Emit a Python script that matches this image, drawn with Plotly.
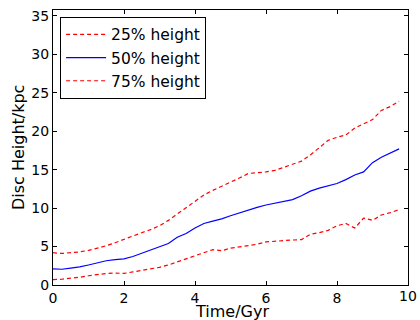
import plotly.graph_objects as go

# Time (Gyr) sample points
t_upper = [0.0, 0.25, 0.5, 0.75, 1.0, 1.25, 1.5, 1.75, 2.0, 2.25, 2.5, 2.75, 3.0, 3.25, 3.5, 3.75, 4.0, 4.25, 4.5, 4.75, 5.0, 5.25, 5.5, 5.75, 6.0, 6.25, 6.5, 6.75, 7.0, 7.25, 7.5, 7.75, 8.0, 8.25, 8.5, 8.75, 9.0, 9.25, 9.5, 9.75]
h75 = [4.2, 4.1, 4.2, 4.3, 4.5, 4.8, 5.1, 5.5, 5.9, 6.3, 6.8, 7.2, 7.7, 8.4, 9.2, 10.0, 10.9, 11.7, 12.3, 12.8, 13.3, 13.9, 14.5, 14.6, 14.7, 14.9, 15.3, 15.7, 16.1, 16.9, 17.9, 18.8, 19.2, 19.5, 20.4, 20.9, 21.5, 22.7, 23.2, 23.9]
h50 = [2.1, 2.05, 2.2, 2.35, 2.6, 2.9, 3.15, 3.3, 3.4, 3.7, 4.1, 4.5, 4.9, 5.4, 6.2, 6.7, 7.4, 8.0, 8.3, 8.6, 9.0, 9.4, 9.7, 10.1, 10.4, 10.6, 10.8, 11.1, 11.6, 12.2, 12.6, 12.9, 13.2, 13.7, 14.3, 14.7, 15.9, 16.6, 17.2, 17.7]
h25 = [0.7, 0.75, 0.9, 1.0, 1.2, 1.35, 1.5, 1.55, 1.5, 1.7, 1.9, 2.1, 2.3, 2.6, 3.0, 3.3, 3.7, 4.1, 4.6, 4.45, 4.8, 4.95, 5.1, 5.3, 5.6, 5.7, 5.8, 5.85, 5.9, 6.6, 6.8, 7.1, 7.7, 8.0, 7.4, 8.7, 8.4, 9.1, 9.4, 9.8]

x_ticks = [0, 2, 4, 6, 8]
x_end_tick = 10
y_ticks = [0, 5, 10, 15, 20, 25, 30, 35]

series_names = ["25% height", "50% height", "75% height"]
x_title = "Time/Gyr"
y_title = "Disc Height/kpc"

fig = go.Figure()
fig.add_trace(go.Scatter(x=t_upper, y=h75, mode="lines", name=series_names[0],
                         line=dict(color="red", width=1.2, dash="4px,3px")))
fig.add_trace(go.Scatter(x=t_upper, y=h50, mode="lines", name=series_names[1],
                         line=dict(color="blue", width=1.2)))
fig.add_trace(go.Scatter(x=t_upper, y=h25, mode="lines", name=series_names[2],
                         line=dict(color="red", width=1.2, dash="4px,3px")))

axis_common = dict(showline=True, linecolor="black", linewidth=1, mirror="ticks",
                   ticks="inside", ticklen=4, tickcolor="black", showgrid=False,
                   zeroline=False, automargin=False, ticklabeloverflow="allow",
                   tickmode="array",
                   tickfont=dict(family="DejaVu Sans", size=14, color="black"))

fig.update_layout(
    width=420, height=320,
    margin=dict(l=52.5, r=12, t=9.5, b=35),
    paper_bgcolor="white", plot_bgcolor="white",
    font=dict(family="DejaVu Sans", size=14, color="black"),
    xaxis=dict(range=[0, 10.0001], tickvals=x_ticks + [x_end_tick],
               ticktext=[str(v) for v in x_ticks] + [""],
               ticklabelstandoff=0, **axis_common),
    yaxis=dict(range=[0, 35.75], tickvals=y_ticks, ticktext=[str(v) for v in y_ticks],
               **axis_common),
    legend=dict(x=0.02, y=0.975, xanchor="left", yanchor="top",
                bordercolor="black", borderwidth=1, bgcolor="white",
                itemwidth=40,
                font=dict(family="DejaVu Sans", size=15.5)),
    annotations=[
        dict(text=str(x_end_tick), xref="x", yref="paper", x=x_end_tick, y=0,
             xanchor="center", yanchor="top", yshift=-1, showarrow=False,
             font=dict(family="DejaVu Sans", size=14, color="black")),
        dict(text=x_title, xref="paper", yref="paper", x=0.505, y=-0.054,
             xanchor="center", yanchor="top", showarrow=False,
             font=dict(family="DejaVu Sans", size=16)),
        dict(text=y_title, xref="paper", yref="paper", x=-0.097, y=0.5,
             xanchor="center", yanchor="middle", textangle=-90, showarrow=False,
             font=dict(family="DejaVu Sans", size=16)),
    ],
)

post = "document.body.style.margin='0';document.body.style.overflow='hidden';"

fig.write_html("out.html", post_script=post, config={"displayModeBar": False})
